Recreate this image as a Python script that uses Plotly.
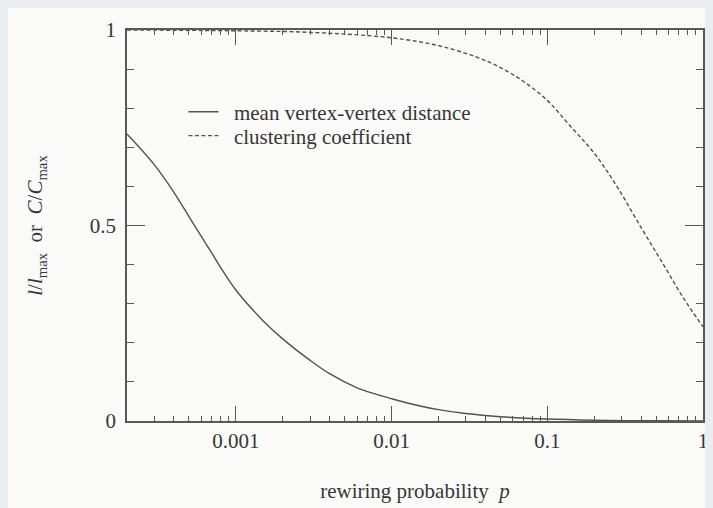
import plotly.graph_objects as go

# Data
p_dist = [2e-4, 3e-4, 4e-4, 5e-4, 6e-4, 7e-4, 8e-4, 1e-3, 1.5e-3, 2e-3, 3e-3, 4e-3,
          6e-3, 8e-3, 0.01, 0.015, 0.02, 0.03, 0.05, 0.1, 0.2, 0.5, 1.0]
dist_norm = [0.734, 0.655, 0.585, 0.523, 0.472, 0.430, 0.392, 0.335, 0.256, 0.210,
             0.155, 0.121, 0.085, 0.068, 0.057, 0.039, 0.029, 0.019, 0.011, 0.005,
             0.002, 0.0005, 0.0]

p_clust = [2e-4, 1e-3, 3e-3, 0.01, 0.02, 0.035, 0.05, 0.07, 0.1, 0.14, 0.2, 0.28,
           0.4, 0.55, 0.75, 1.0]
clust_norm = [1.0, 0.998, 0.994, 0.98, 0.96, 0.931, 0.904, 0.869, 0.82, 0.755, 0.685,
              0.60, 0.495, 0.404, 0.314, 0.241]

series_names = ["mean vertex-vertex distance", "clustering coefficient"]

x_tickvals = [0.001, 0.01, 0.1, 1]
x_ticktext = ["0.001", "0.01", "0.1", "1"]
x_minor = [m * 10 ** e for e in (-4, -3, -2, -1) for m in range(2, 10)]
y_tickvals = [0, 0.5, 1]
y_ticktext = ["0", "0.5", "1"]
y_minor = [0.1, 0.2, 0.3, 0.4, 0.6, 0.7, 0.8, 0.9]

FONT = "Liberation Serif, Times New Roman, serif"
FS = 21
INK = "#57504f"
AX = "#585858"
TXT = "#363636"

fig = go.Figure()
fig.add_trace(go.Scatter(x=p_dist, y=dist_norm, mode="lines",
                         name="&nbsp;&nbsp;" + series_names[0], legend="legend",
                         line=dict(color=INK, width=1.4, shape="spline", smoothing=1.0)))
fig.add_trace(go.Scatter(x=p_clust, y=clust_norm, mode="lines",
                         name="&nbsp;&nbsp;" + series_names[1], legend="legend2",
                         line=dict(color=INK, width=1.4, dash="4px,2.5px", shape="spline",
                                   smoothing=1.0)))

leg_common = dict(x=0.098, xanchor="left", yanchor="middle", bgcolor="rgba(0,0,0,0)",
                  font=dict(family=FONT, size=FS, color=TXT))

fig.update_layout(
    width=705, height=500,
    margin=dict(l=119, r=5, t=22, b=87),
    paper_bgcolor="#fafaf8",
    plot_bgcolor="#fafaf8",
    font=dict(family=FONT, size=FS, color=TXT),
    showlegend=True,
    legend=dict(y=0.790, **leg_common),
    legend2=dict(y=0.729, **leg_common),
)
fig.update_xaxes(
    type="log", range=[-3.69897, 0], showgrid=False, zeroline=False,
    showline=True, linecolor=AX, linewidth=1.5, mirror="ticks",
    ticks="inside", ticklen=15, tickwidth=1.3, tickcolor=AX,
    tickvals=x_tickvals, ticktext=x_ticktext, tickfont=dict(size=FS, color=TXT),
    minor=dict(ticks="inside", ticklen=5, tickwidth=1.2, tickcolor=AX, tickvals=x_minor),
    title=dict(text="rewiring probability  <i>p</i>", font=dict(size=FS, color=TXT),
               standoff=31),
)
fig.update_yaxes(
    range=[0, 1], showgrid=False, zeroline=False,
    showline=True, linecolor=AX, linewidth=1.5, mirror="ticks",
    ticks="inside", ticklen=18, tickwidth=1.3, tickcolor=AX,
    tickvals=y_tickvals, ticktext=y_ticktext, tickfont=dict(size=FS, color=TXT),
    ticklabelstandoff=5,
    minor=dict(ticks="inside", ticklen=7, tickwidth=1.2, tickcolor=AX, tickvals=y_minor),
    title=dict(text="<i>l</i>/<i>l</i><sub>max</sub>  or  <i>C</i>/<i>C</i><sub>max</sub>",
               font=dict(size=FS, color=TXT), standoff=41),
)

fig.write_html("out.html", post_script="document.body.style.background='#e9edef';")
